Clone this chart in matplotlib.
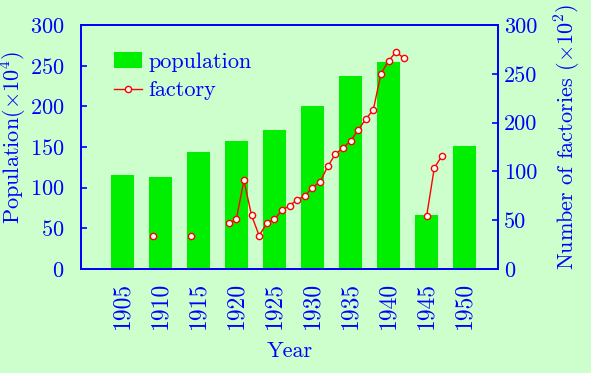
import numpy as np
import matplotlib
matplotlib.use('Agg')
import matplotlib.pyplot as plt

plt.rcParams['font.family'] = ['cmr10', 'DejaVu Serif']
plt.rcParams['mathtext.fontset'] = 'cm'
plt.rcParams['axes.unicode_minus'] = False
plt.rcParams['axes.formatter.use_mathtext'] = True

# population (x10^4) per census year
years = [1905, 1910, 1915, 1920, 1925, 1930, 1935, 1940, 1945, 1950]
population = [115, 113, 144, 157, 171, 200, 237, 254, 66, 151]

# factories, plotted on the drawn right-hand scale (gaps = no data)
factory_years = [1909, 1910, 1914, 1915, 1919, 1920, 1921, 1922, 1923, 1924, 1925,
                 1926, 1927, 1928, 1929, 1930, 1931, 1932, 1933, 1934, 1935,
                 1936, 1937, 1938, 1939, 1940, 1941, 1942, 1943, 1945, 1946, 1947]
factory = [40, np.nan, 41, np.nan, 56, 61, 109, 66, 41, 56, 61,
           72, 78, 85, 90, 100, 107, 126, 141, 149, 157,
           171, 184, 196, 240, 256, 267, 259, np.nan, 65, 124, 139]

right_ticks = [0, 60, 120, 180, 240, 300]
right_labels = ['0', '50', '100', '200', '250', '300']

bg = '#ccffcc'
blue = '#0000ff'
fs = 16

fig = plt.figure(figsize=(5.91, 3.73), dpi=100, facecolor=bg)
ax = fig.add_axes([0.137, 0.279, 0.706, 0.654])
ax.set_facecolor(bg)

bars = ax.bar(years, population, width=3, color='#00ee00', label='population')
ax.set_xlim(1899.6, 1954.4)
ax.set_ylim(0, 300)
ax.set_xticks(years)
ax.set_xticklabels([str(y) for y in years], rotation=90)
ax.set_yticks([0, 50, 100, 150, 200, 250, 300])
ax.tick_params(axis='x', length=0, pad=9, labelsize=17, colors=blue)
ax.tick_params(axis='y', direction='in', length=4, width=1.2, pad=12,
               labelsize=fs, colors=blue)
for s in ax.spines.values():
    s.set_color(blue)
    s.set_linewidth(1.3)
ax.set_xlabel('Year', color=blue, fontsize=fs, labelpad=9)
ax.set_ylabel(r'Population($\times$10$^4$)', color=blue, fontsize=fs)
ax.yaxis.set_label_coords(-0.124, 0.54)

ax2 = ax.twinx()
line, = ax2.plot(factory_years, factory, color='red', lw=1, marker='o', ms=4.5,
                 mfc='white', mec='red', mew=1, label='factory')
ax2.set_ylim(0, 300)
ax2.set_yticks(right_ticks)
ax2.set_yticklabels(right_labels)
ax2.tick_params(axis='y', direction='in', length=4, width=1.2, pad=4,
                labelsize=fs, colors=blue)
for s in ax2.spines.values():
    s.set_color(blue)
    s.set_linewidth(1.3)
ax2.set_ylabel(r'Number of factories ($\times$10$^2$)', color=blue, fontsize=fs)
ax2.yaxis.set_label_coords(1.132, 0.54)

leg = ax.legend([bars, line], ['population', 'factory'], loc='upper left',
                bbox_to_anchor=(0.031, 0.97), frameon=False, fontsize=fs,
                handlelength=1.25, handletextpad=0.3, labelspacing=0.4)
for t in leg.get_texts():
    t.set_color(blue)

fig.savefig('out.png', dpi=100, facecolor=bg)
